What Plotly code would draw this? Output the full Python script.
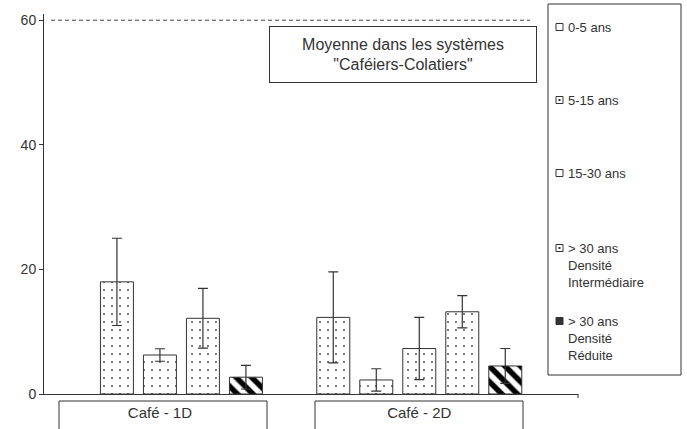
import plotly.graph_objects as go

# Categories and age classes
categories = ["Café - 1D", "Café - 2D"]
classes = [
    "0-5 ans",
    "5-15 ans",
    "15-30 ans",
    "> 30 ans<br>Densité<br>Intermédiaire",
    "> 30 ans<br>Densité<br>Réduite",
]

# Mean values per class (None = no stand in that category)
val_0_5 = [None, 12.3]
val_5_15 = [18.0, 2.25]
val_15_30 = [6.26, 7.3]
val_30_di = [12.15, 13.2]
val_30_dr = [2.7, 4.5]

# Error half-widths
err_0_5 = [0, 7.3]
err_5_15 = [7.0, 1.8]
err_15_30 = [1.0, 5.0]
err_30_di = [4.8, 2.6]
err_30_dr = [1.9, 2.8]

# Reference level for the "Caféiers-Colatiers" systems
reference_mean = 60
reference_text = 'Moyenne dans les systèmes<br>"Caféiers-Colatiers"'

values = [val_0_5, val_5_15, val_15_30, val_30_di, val_30_dr]
errors = [err_0_5, err_5_15, err_15_30, err_30_di, err_30_dr]

INK = "#333333"
FONT = "Liberation Sans, Arial, sans-serif"
W, H = 687, 429
ML, MR, MT, MB = 44, 109, 14, 35
PW, PH = W - ML - MR, H - MT - MB


def px_x(px):
    return (px - ML) / PW


def px_y(py):
    return (H - MB - py) / PH


dots = dict(shape=".", size=8, solidity=0.05, fgcolor="#5a4e4e",
            bgcolor="white", fillmode="replace")
stripes = dict(shape="\\", size=11, solidity=0.5, fgcolor="#000000",
               bgcolor="white", fillmode="replace")
patterns = [dots, dots, dots, dots, stripes]

fig = go.Figure()
for name, v, e, pat in zip(classes, values, errors, patterns):
    fig.add_trace(go.Bar(
        x=categories, y=v, name=name,
        marker=dict(color="white", pattern=pat,
                    line=dict(color=INK, width=1)),
        error_y=dict(type="data", array=e, visible=True,
                     color=INK, thickness=1.2, width=5),
        showlegend=False,
    ))

shapes = []
annotations = []

# Dashed reference line
shapes.append(dict(type="line", xref="paper", yref="y",
                   x0=px_x(51), x1=px_x(530), y0=reference_mean, y1=reference_mean,
                   line=dict(color="#444444", width=1, dash="4px,3px")))

# Small closing tick at the right end of the category axis
shapes.append(dict(type="line", xref="paper", yref="paper",
                   x0=1, x1=1, y0=0, y1=px_y(398),
                   line=dict(color=INK, width=1)))

# Category label frames (open at the bottom)
for left, right in [(59, 267), (315, 523)]:
    shapes.append(dict(type="rect", xref="paper", yref="paper",
                       x0=px_x(left), x1=px_x(right),
                       y0=px_y(440), y1=px_y(401),
                       line=dict(color=INK, width=1), fillcolor="rgba(0,0,0,0)"))

# Reference annotation box
annotations.append(dict(
    xref="paper", yref="paper", x=px_x(403), y=px_y(54.5),
    text=reference_text, showarrow=False, align="center",
    width=266, height=55, borderpad=0, bordercolor=INK, borderwidth=1,
    bgcolor="white", font=dict(family=FONT, size=16, color=INK),
    xanchor="center", yanchor="middle"))

# Legend frame
shapes.append(dict(type="rect", xref="paper", yref="paper",
                   x0=px_x(548), x1=px_x(681), y0=px_y(375), y1=px_y(4),
                   line=dict(color=INK, width=1), fillcolor="white", layer="above"))

legend_tops = [27, 100, 173, 248, 321]
sw_left, sw_size, text_left = 556, 7, 566
for i, (name, top) in enumerate(zip(classes, legend_tops)):
    cy = top
    fill = "#333333" if i == 4 else "white"
    shapes.append(dict(type="rect", xref="paper", yref="paper",
                       x0=px_x(sw_left), x1=px_x(sw_left + sw_size),
                       y0=px_y(cy + sw_size / 2), y1=px_y(cy - sw_size / 2),
                       line=dict(color=INK, width=1), fillcolor=fill, layer="above"))
    if i in (1, 3):
        c = sw_left + sw_size / 2
        shapes.append(dict(type="rect", xref="paper", yref="paper",
                           x0=px_x(c - 1), x1=px_x(c + 1),
                           y0=px_y(cy + 1), y1=px_y(cy - 1),
                           line=dict(width=0), fillcolor=INK, layer="above"))
    annotations.append(dict(
        xref="paper", yref="paper", x=px_x(text_left), y=px_y(top - 9),
        text=name, showarrow=False, align="left",
        xanchor="left", yanchor="top",
        font=dict(family=FONT, size=13, color=INK)))

fig.update_layout(
    width=W, height=H,
    margin=dict(l=ML, r=MR, t=MT, b=MB),
    paper_bgcolor="white", plot_bgcolor="white",
    barmode="group", bargap=0.171, bargroupgap=0.233,
    font=dict(family=FONT, color=INK),
    xaxis=dict(range=[-0.447, 1.612], showline=True, linecolor=INK, linewidth=1,
               ticks="", showgrid=False, zeroline=False, automargin=False,
               tickfont=dict(size=15, color=INK), ticklabelstandoff=5),
    yaxis=dict(range=[0, 61], showline=True, linecolor=INK, linewidth=1,
               ticks="outside", ticklen=4, tickcolor=INK, automargin=False,
               tickvals=[0, 20, 40, 60], showgrid=False, zeroline=False,
               tickfont=dict(size=14, color=INK)),
    shapes=shapes, annotations=annotations,
)

fig.write_html("out.html")
